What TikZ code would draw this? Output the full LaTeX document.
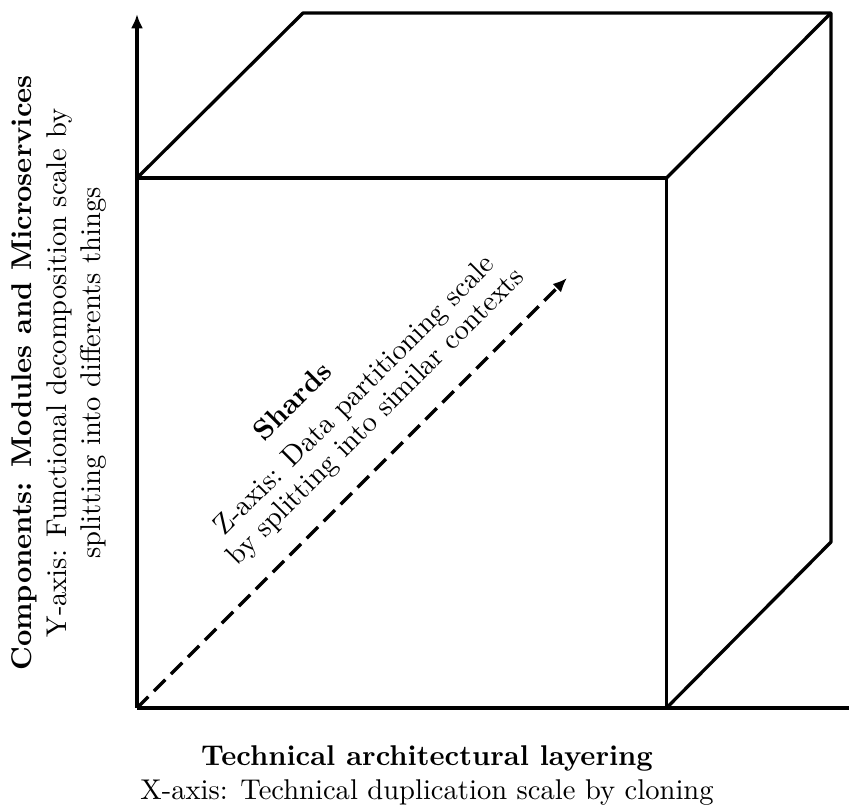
\documentclass[tikz,border=0pt]{standalone}
\usetikzlibrary{arrows.meta}
\begin{document}
\begin{tikzpicture}[x=0.35pt,y=-0.35pt,
  edge/.style={line width=1.15pt, line join=round},
  axisarrow/.style={edge,-{Latex[length=5pt,width=4.2pt]}},
  zarrow/.style={line width=1.15pt,dash pattern=on 5.6pt off 2.8pt,-{Latex[length=5pt,width=4.2pt]}},
  lbl/.style={inner sep=0pt, align=center, font=\normalsize}]
\useasboundingbox (0,0) rectangle (849,807);
% corners
\coordinate (o) at (137,708);
\coordinate (ftl) at (137,178);
\coordinate (ftr) at (666.5,178);
\coordinate (fbr) at (666.5,708);
\coordinate (btl) at (303,13);
\coordinate (btr) at (831,13);
\coordinate (bbr) at (831,542);
\coordinate (xend) at (849,708);
\coordinate (ytop) at (137,14);
\coordinate (ztip) at (567,278);
% cube
\draw[edge] (o) -- (xend);
\draw[axisarrow] (o) -- (ytop);
\draw[edge] (ftl) -- (ftr) -- (fbr);
\draw[edge] (ftl) -- (btl) -- (btr) -- (bbr) -- (fbr);
\draw[edge] (btr) -- (ftr);
\draw[zarrow] (o) -- (ztip);
% labels
\node[lbl, anchor=north] (xlab) at (427,745)
  {\bfseries Technical architectural layering\\X-axis: Technical duplication scale by cloning};
\node[lbl, rotate=90] (ylab) at (59,373)
  {\bfseries Components: Modules and Microservices\\Y-axis: Functional decomposition scale by\\splitting into differents things};
\node[lbl, rotate=45, font=\bfseries] (shards) at (292,401) {Shards};
\node[lbl, rotate=45] (zlab) at (366,407)
  {Z-axis: Data partitioning scale\\[-1.5pt]by splitting into similar contexts};
\end{tikzpicture}
\end{document}
